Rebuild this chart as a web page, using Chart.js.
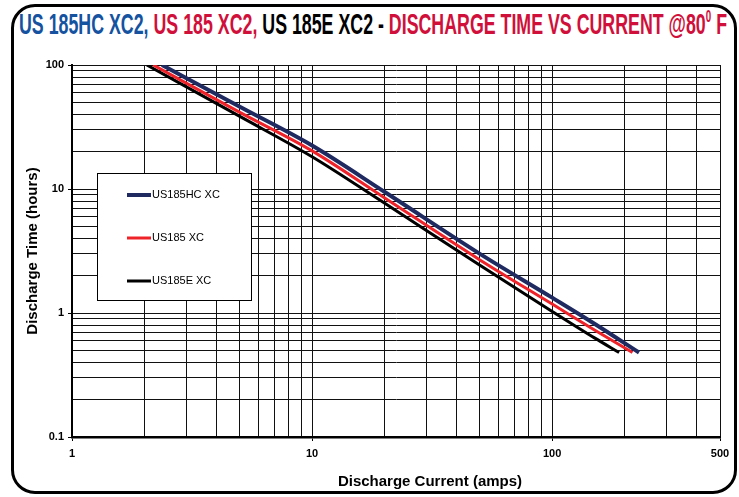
<!DOCTYPE html>
<html>
<head>
<meta charset="utf-8">
<script src="https://cdn.jsdelivr.net/npm/chart.js@4.4.0/dist/chart.umd.min.js"></script>
<style>
  html, body { margin: 0; padding: 0; background: #fff; }
  #wrap { position: relative; width: 739px; height: 497px; overflow: hidden; }
  #frame { position: absolute; left: 11px; top: 4px; width: 726px; height: 490px; box-sizing: border-box;
           border: 3px solid #000; border-radius: 24px; }
  #title { position: absolute; left: 19px; top: 9px; font-family: "Liberation Sans Narrow", "Arial Narrow", sans-serif;
           font-weight: bold; font-size: 30px; line-height: 30px; white-space: nowrap; transform-origin: 0 0; }
  #title .blue { color: #1552a0; }
  #title .red { color: #d0103a; }
  #title sup { font-size: 0.55em; vertical-align: baseline; position: relative; top: -0.75em; }
  #chartBox { position: absolute; left: 0; top: 0; width: 739px; height: 497px; }
</style>
</head>
<body>
<div id="wrap">
  <div id="frame"></div>
  <div id="title"><span class="blue">US 185HC XC2,</span> <span class="red">US 185 XC2,</span> <span>US 185E XC2 -</span> <span class="red">DISCHARGE TIME VS CURRENT @80<sup>0</sup> F</span></div>
  <div id="chartBox"><canvas id="chart" width="739" height="497"></canvas></div>
</div>
<script>
// axis ranges and labelled ticks
const xMin = 1, xMax = 500;
const yMin = 0.1, yMax = 100;
const xTickLabels = [1, 10, 100, 500];
const yTickLabels = [0.1, 1, 10, 100];

// series (amps -> hours)
const seriesNames = ['US185HC XC', 'US185 XC', 'US185E XC'];
const hcCurrent = [2.37, 5, 10, 20, 50, 100, 150, 230];
const hcHours   = [100, 46, 22.4, 9.5, 3.0, 1.33, 0.82, 0.48];
const stdCurrent = [2.18, 5, 10, 20, 50, 100, 150, 216];
const stdHours   = [100, 41.5, 20.3, 8.5, 2.68, 1.18, 0.73, 0.48];
const eCurrent = [2.05, 5, 10, 20, 50, 100, 150, 190];
const eHours   = [100, 38.5, 18.2, 7.7, 2.43, 1.03, 0.63, 0.48];

const colors = ['#1f2a60', '#ee2229', '#000000'];
const widths = [4, 3, 3];

// fit the title to the frame width
const title = document.getElementById('title');
const tw = title.getBoundingClientRect().width;
title.style.transform = 'scaleX(' + (708 / tw) + ')';

// every 1..9 line of each decade
function gridValues(min, max) {
  const vals = [];
  for (let d = min; d < max; d *= 10) {
    for (let m = 1; m < 10; m++) {
      const v = +(m * d).toPrecision(3);
      if (v <= max) vals.push(v);
    }
  }
  if (vals[vals.length - 1] !== max) vals.push(max);
  return vals;
}
const xGrid = gridValues(xMin, xMax);
const yGrid = gridValues(yMin, yMax);

function toPoints(xs, ys) {
  return xs.map((x, i) => ({ x: x, y: ys[i] }));
}

const tickFont = { family: '"Liberation Sans", Arial, sans-serif', weight: 'bold', size: 11 };

const axisTitles = {
  id: 'axisTitles',
  afterDraw(chart) {
    const ctx = chart.ctx;
    const area = chart.chartArea;
    ctx.save();
    ctx.font = 'bold 15px "Liberation Sans", Arial, sans-serif';
    ctx.fillStyle = '#000';
    ctx.textAlign = 'center';
    ctx.textBaseline = 'middle';
    ctx.fillText('Discharge Current (amps)', 430, 482);
    ctx.translate(33, (area.top + area.bottom) / 2);
    ctx.rotate(-Math.PI / 2);
    ctx.fillText('Discharge Time (hours)', 0, 0);
    ctx.restore();
  }
};

const boxLegend = {
  id: 'boxLegend',
  afterDraw(chart, args, opts) {
    const ctx = chart.ctx;
    ctx.save();
    ctx.fillStyle = '#fff';
    ctx.fillRect(opts.x, opts.y, opts.w, opts.h);
    ctx.strokeStyle = '#000';
    ctx.lineWidth = 1;
    ctx.strokeRect(opts.x + 0.5, opts.y + 0.5, opts.w, opts.h);
    ctx.font = '11px "Liberation Sans", Arial, sans-serif';
    ctx.textBaseline = 'middle';
    chart.data.datasets.forEach((ds, i) => {
      const y = opts.y + opts.first + i * opts.step;
      ctx.strokeStyle = ds.borderColor;
      ctx.lineWidth = ds.borderWidth;
      ctx.beginPath();
      ctx.moveTo(opts.x + 30, y);
      ctx.lineTo(opts.x + 54, y);
      ctx.stroke();
      ctx.fillStyle = '#000';
      ctx.fillText(ds.label, opts.x + 55, y);
    });
    ctx.restore();
  }
};

new Chart(document.getElementById('chart'), {
  type: 'line',
  data: {
    datasets: [
      { label: seriesNames[0], data: toPoints(hcCurrent, hcHours) },
      { label: seriesNames[1], data: toPoints(stdCurrent, stdHours) },
      { label: seriesNames[2], data: toPoints(eCurrent, eHours) }
    ].map((ds, i) => Object.assign(ds, {
      borderColor: colors[i],
      borderWidth: widths[i],
      pointRadius: 0,
      fill: false,
      cubicInterpolationMode: 'monotone'
    }))
  },
  options: {
    responsive: false,
    animation: false,
    layout: { padding: { left: 0, right: 19, top: 65, bottom: 0 } },
    plugins: {
      legend: { display: false },
      tooltip: { enabled: false },
      boxLegend: { x: 97, y: 173, w: 154, h: 127, first: 22, step: 43 }
    },
    scales: {
      x: {
        type: 'logarithmic', min: xMin, max: xMax,
        afterBuildTicks: s => { s.ticks = xGrid.map(v => ({ value: v })); },
        afterFit: s => { s.height = 60; },
        ticks: {
          autoSkip: false, maxRotation: 0, padding: 6, color: '#000', font: tickFont,
          callback: v => xTickLabels.includes(v) ? String(v) : ''
        },
        grid: {
          color: '#111', lineWidth: 1, tickLength: 4,
          tickColor: c => (c.tick && xTickLabels.includes(c.tick.value)) ? '#000' : 'rgba(0,0,0,0)'
        },
        border: { color: '#000', width: 2.5 }
      },
      y: {
        type: 'logarithmic', min: yMin, max: yMax,
        afterBuildTicks: s => { s.ticks = yGrid.map(v => ({ value: v })); },
        afterFit: s => { s.width = 72; },
        ticks: {
          autoSkip: false, padding: 4, color: '#000', font: tickFont,
          callback: v => yTickLabels.includes(v) ? String(v) : ''
        },
        grid: {
          color: '#111', lineWidth: 1, tickLength: 4,
          tickColor: c => (c.tick && yTickLabels.includes(c.tick.value)) ? '#000' : 'rgba(0,0,0,0)'
        },
        border: { color: '#000', width: 2 }
      }
    }
  },
  plugins: [axisTitles, boxLegend]
});
</script>
</body>
</html>
